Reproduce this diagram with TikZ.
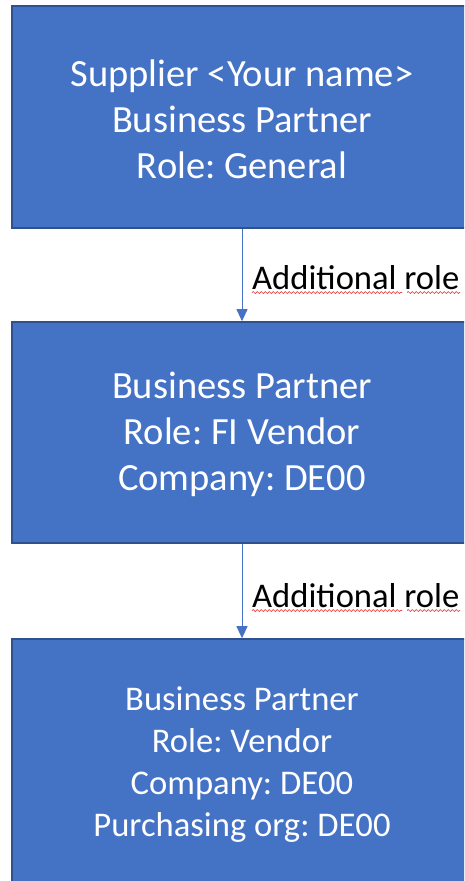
\documentclass[tikz,border=0pt]{standalone}
\usepackage{fontspec}
\setmainfont{Carlito}
\usetikzlibrary{arrows.meta,decorations.pathmorphing}
\definecolor{boxblue}{HTML}{4472C4}
\definecolor{boxedge}{HTML}{2F528F}
\definecolor{squig}{HTML}{E84040}
\tikzset{
  x=1pt,y=-1pt,
  bpbox/.style={draw=boxedge,line width=1.6pt,fill=boxblue,minimum width=460pt,inner sep=0pt},
  boxtext/.style={text=white,align=center,inner sep=0pt},
  bigtxt/.style={font=\fontsize{38.5}{46}\selectfont},
  smalltxt/.style={font=\fontsize{34.6}{42.2}\selectfont},
  conn/.style={draw=boxblue,line width=1pt,-{Triangle[width=11pt,length=12pt]}},
  lbl/.style={anchor=base west,inner sep=0pt,font=\fontsize{34.6}{42}\selectfont,text=black},
  wavy/.style={draw=squig,line width=0.7pt,decorate,decoration={snake,amplitude=1pt,segment length=4pt}}
}
\begin{document}
\frenchspacing
\begin{tikzpicture}
\useasboundingbox (0,0) rectangle (464,881);
\clip (0,0) rectangle (464,881);
\node[bpbox,minimum height=222pt] (b1) at (242,117) {};
\node[boxtext,bigtxt] (t1) at (242,119) {Supplier {<}Your name{>}\\Business Partner\\Role: General};
\node[bpbox,minimum height=221pt] (b2) at (242,432.5) {};
\node[boxtext,bigtxt] (t2) at (242,434) {Business Partner\\Role: FI Vendor\\Company: DE00};
\node[bpbox,minimum height=246pt] (b3) at (242,762) {};
\node[boxtext,smalltxt] (t3) at (242,764.5) {Business Partner\\Role: Vendor\\Company: DE00\\Purchasing org: DE00};
\draw[conn] (b1.south) -- (b2.north);
\draw[conn] (b2.south) -- (b3.north);
\node[lbl] (l1) at (252,289) {Additional role};
\node[lbl] (l2) at (252,607) {Additional role};
\coordinate (w1a) at (252,292.5); \coordinate (w1b) at (402,292.5);
\coordinate (w1c) at (407,292.5); \coordinate (w1d) at (460,292.5);
\coordinate (w2a) at (252,610.5); \coordinate (w2b) at (402,610.5);
\coordinate (w2c) at (407,610.5); \coordinate (w2d) at (460,610.5);
\draw[wavy] (w1a) -- (w1b);
\draw[wavy] (w1c) -- (w1d);
\draw[wavy] (w2a) -- (w2b);
\draw[wavy] (w2c) -- (w2d);
\end{tikzpicture}
\end{document}
